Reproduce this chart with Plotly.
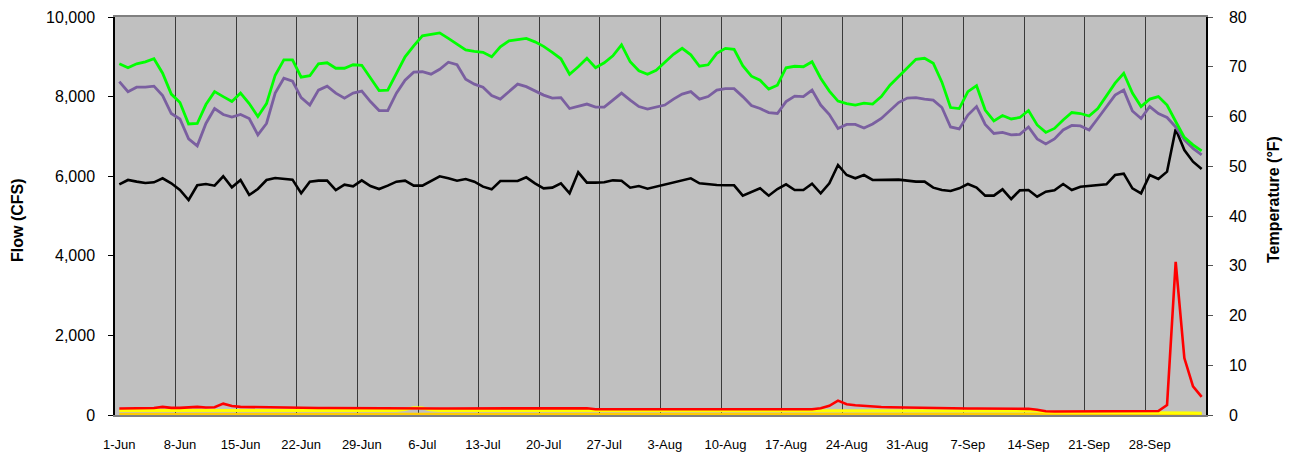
import pandas as pd
import plotly.graph_objects as go

dates = pd.date_range("2010-06-01", periods=126, freq="D")

green_temp = [70.6, 69.8, 70.6, 71.0, 71.6, 68.7, 64.5, 62.8, 58.5, 58.6, 62.4, 65.0, 64.0, 63.0, 64.7, 62.6,
              60.0, 62.6, 68.3, 71.4, 71.4, 67.9, 68.2, 70.6, 70.8, 69.7, 69.7, 70.4, 70.3, 67.7, 65.2, 65.3,
              68.7, 72.0, 74.2, 76.2, 76.5, 76.8, 75.7, 74.6, 73.4, 73.1, 72.9, 72.0, 74.0, 75.2, 75.4, 75.7,
              75.0, 74.1, 72.9, 71.6, 68.5, 70.0, 71.7, 69.8, 70.8, 72.2, 74.4, 71.0, 69.2, 68.5, 69.3, 71.0,
              72.5, 73.7, 72.4, 70.1, 70.4, 72.7, 73.7, 73.5, 70.2, 68.1, 67.3, 65.5, 66.3, 69.8, 70.1, 70.0,
              71.0, 67.7, 65.1, 63.1, 62.6, 62.3, 62.7, 62.5, 64.0, 66.3, 68.0, 69.9, 71.5, 71.7, 70.7, 66.9,
              61.8, 61.6, 65.0, 66.2, 61.3, 59.1, 60.2, 59.5, 59.8, 61.2, 58.3, 56.8, 57.6, 59.3, 60.8, 60.6,
              60.1, 61.6, 64.2, 66.7, 68.7, 64.7, 62.0, 63.5, 64.0, 62.3, 59.0, 55.8, 54.3, 53.1]

purple_temp = [67.0, 65.0, 65.9, 65.9, 66.1, 64.2, 60.6, 59.5, 55.5, 54.1, 58.6, 61.6, 60.4, 59.9, 60.4, 59.6,
               56.3, 58.6, 64.7, 67.7, 67.1, 63.8, 62.3, 65.3, 66.1, 64.7, 63.7, 64.7, 65.1, 63.0, 61.2, 61.2,
               64.7, 67.3, 68.9, 69.0, 68.5, 69.5, 70.9, 70.4, 67.5, 66.5, 65.9, 64.2, 63.5, 65.0, 66.5, 66.0,
               65.1, 64.3, 63.7, 63.8, 61.6, 62.1, 62.5, 61.9, 61.9, 63.3, 64.7, 63.3, 62.0, 61.5, 61.9, 62.3,
               63.5, 64.5, 65.0, 63.5, 64.0, 65.3, 65.6, 65.6, 64.0, 62.2, 61.6, 60.8, 60.6, 63.0, 64.1, 64.0,
               65.3, 62.3, 60.4, 57.6, 58.4, 58.4, 57.7, 58.5, 59.6, 61.3, 62.8, 63.7, 63.8, 63.5, 63.3, 61.8,
               57.9, 57.5, 60.3, 62.0, 58.4, 56.6, 56.8, 56.3, 56.4, 57.9, 55.5, 54.5, 55.5, 57.3, 58.2, 58.1,
               57.3, 59.6, 62.0, 64.3, 65.3, 61.1, 59.6, 62.0, 60.6, 59.8, 57.9, 55.3, 53.6, 52.3]

black_flow = [5796, 5905, 5863, 5829, 5846, 5947, 5821, 5653, 5402, 5771, 5804, 5762, 5997, 5720, 5905, 5528,
              5678, 5905, 5955, 5930, 5913, 5570, 5863, 5888, 5888, 5653, 5787, 5746, 5896, 5754, 5678, 5762,
              5863, 5888, 5762, 5762, 5879, 5997, 5947, 5888, 5930, 5863, 5737, 5670, 5879, 5888, 5879, 5972,
              5821, 5695, 5712, 5821, 5570, 6097, 5838, 5838, 5846, 5896, 5888, 5712, 5754, 5687, 5737, 5796,
              5846, 5896, 5947, 5821, 5796, 5779, 5771, 5771, 5511, 5611, 5695, 5511, 5678, 5796, 5653, 5653,
              5812, 5570, 5821, 6281, 6030, 5947, 6030, 5905, 5905, 5913, 5913, 5888, 5863, 5863, 5712, 5653,
              5628, 5695, 5804, 5712, 5511, 5511, 5670, 5427, 5645, 5653, 5486, 5611, 5645, 5804, 5653, 5737,
              5754, 5779, 5796, 6030, 6064, 5695, 5570, 6030, 5930, 6114, 7186, 6658, 6365, 6181]

red_flow = ([165, 165, 165, 170, 175, 205, 180, 180, 185, 205, 190, 195, 285, 225, 205, 200, 205, 200, 190, 185]
            + [180, 178, 176, 175, 174, 172, 170, 170, 168, 168, 167, 166, 165, 165]
            + [165] * 17
            + [170, 180, 175, 170]
            + [145] * 26
            + [170, 230, 360, 270, 245, 225, 210, 200, 195, 190, 185, 180]
            + [175, 172, 170, 168, 166, 165, 164]
            + [162, 160, 160, 158, 158, 155]
            + [130, 95]
            + [88] * 12
            + [100, 250, 3850, 1430, 720, 455])

yellow_flow = ([115] * 33 + [140, 185, 175, 125] + [115] * 69 + [100, 75] + [68] * 13
               + [65, 60, 55, 50, 45])

gold_flow = [15] * 126

FONT = "Liberation Sans, Arial, sans-serif"

fig = go.Figure()
fig.add_trace(go.Scatter(x=dates, y=gold_flow, mode="lines", line=dict(color="#FFCC00", width=3.5), name="gold"))
fig.add_trace(go.Scatter(x=dates, y=yellow_flow, mode="lines", line=dict(color="#FFFF00", width=3), name="yellow"))
fig.add_trace(go.Scatter(x=dates, y=red_flow, mode="lines", line=dict(color="#FF0000", width=2.6), name="red"))
fig.add_trace(go.Scatter(x=dates, y=purple_temp, mode="lines", line=dict(color="#7A5FA0", width=2.8),
                         yaxis="y2", name="purple"))
fig.add_trace(go.Scatter(x=dates, y=green_temp, mode="lines", line=dict(color="#00FF00", width=2.8),
                         yaxis="y2", name="green"))
fig.add_trace(go.Scatter(x=dates, y=black_flow, mode="lines", line=dict(color="#000000", width=2.6),
                         name="black"))

half = pd.Timedelta(hours=12)
week_ticks = list(dates[::7])
week_text = [f"{d.day}-{d.strftime('%b')}" for d in week_ticks]
grid_pos = [d - half for d in dates[7::7]]

fig.update_layout(
    width=1290, height=454,
    margin=dict(l=115, r=84, t=17, b=39, autoexpand=False),
    paper_bgcolor="white", plot_bgcolor="#C0C0C0",
    showlegend=False,
    font=dict(family=FONT, color="black"),
    xaxis=dict(
        range=[dates[0] - half, dates[-1] + half],
        tickmode="array", tickvals=week_ticks, ticktext=week_text,
        tickfont=dict(size=13), ticks="", showgrid=False,
        ticklabelstandoff=16, automargin=False,
        showline=True, linecolor="#808080", linewidth=2, mirror=True,
        minor=dict(tickvals=grid_pos, showgrid=True, gridcolor="#3a3a3a", gridwidth=1, ticks=""),
        zeroline=False,
    ),
    yaxis=dict(
        range=[0, 10000], tickvals=[0, 2000, 4000, 6000, 8000, 10000],
        tickformat=",d", tickfont=dict(size=16), automargin=False,
        ticks="outside", ticklen=5, tickcolor="black",
        showline=True, linecolor="black", linewidth=1.5,
        showgrid=False, zeroline=False, ticklabelstandoff=10,
    ),
    yaxis2=dict(
        range=[0, 80], tickvals=[0, 10, 20, 30, 40, 50, 60, 70, 80],
        overlaying="y", side="right", tickfont=dict(size=16), automargin=False,
        ticks="outside", ticklen=5, tickcolor="#555555",
        showline=True, linecolor="black", linewidth=1.5,
        showgrid=False, zeroline=False, ticklabelstandoff=13,
    ),
    annotations=[
        dict(text="<b>Flow (CFS)</b>", xref="paper", yref="paper", x=0, y=0.49,
             xanchor="center", yanchor="middle",
             xshift=-97, textangle=-90, showarrow=False, font=dict(size=16, family=FONT)),
        dict(text="<b>Temperature (°F)</b>", xref="paper", yref="paper", x=1, y=0.54,
             xanchor="center", yanchor="middle",
             xshift=67, textangle=-90, showarrow=False, font=dict(size=16, family=FONT)),
    ],
)

fig.write_html("out.html", config={"displayModeBar": False},
               post_script="document.body.style.margin='0';")
